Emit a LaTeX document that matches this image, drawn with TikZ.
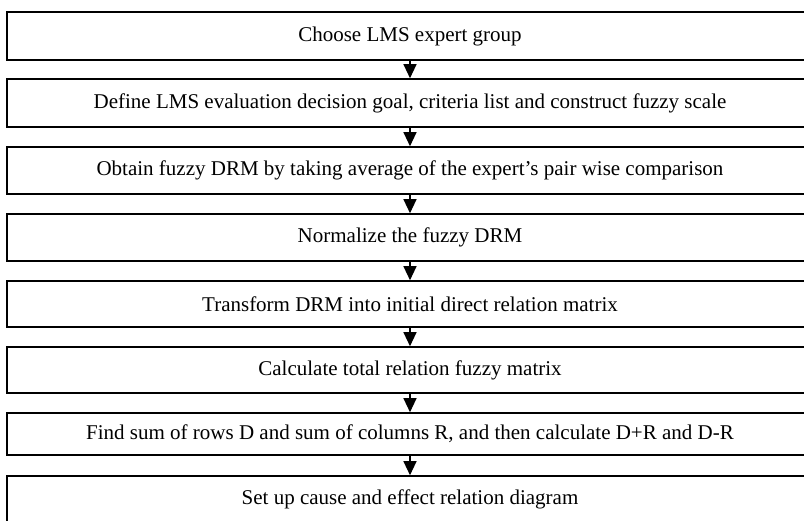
\documentclass[tikz,border=0pt]{standalone}
\usepackage{fontspec}
\setmainfont{Liberation Serif}
\usetikzlibrary{arrows.meta}
\begin{document}
\begin{tikzpicture}[x=1pt,y=1pt,
  stepbox/.style={draw, line width=1.6pt, rectangle, minimum width=806pt, inner sep=0pt, font=\fontsize{21}{24}\selectfont},
  flow/.style={line width=1.2pt, -{Triangle[width=13pt,length=14pt]}}]
\useasboundingbox (0,0) rectangle (804,-520);
\clip (0,0) rectangle (804,-520);
\node[stepbox, minimum height=48pt] (b1) at (410,-36) {Choose LMS expert group};
\node[stepbox, minimum height=48pt] (b2) at (410,-103) {Define LMS evaluation decision goal, criteria list and construct fuzzy scale};
\node[stepbox, minimum height=47pt] (b3) at (410,-170.5) {Obtain fuzzy DRM by taking average of the expert’s pair wise comparison};
\node[stepbox, minimum height=47pt] (b4) at (410,-237.5) {Normalize the fuzzy DRM};
\node[stepbox, minimum height=46pt] (b5) at (410,-304) {Transform DRM into initial direct relation matrix};
\node[stepbox, minimum height=46pt] (b6) at (410,-370) {Calculate total relation fuzzy matrix};
\node[stepbox, minimum height=42pt] (b7) at (410,-434) {Find sum of rows D and sum of columns R, and then calculate D+R and D-R};
\node[stepbox, minimum height=47pt] (b8) at (410,-499.5) {Set up cause and effect relation diagram};
\foreach \a/\b in {b1/b2,b2/b3,b3/b4,b4/b5,b5/b6,b6/b7,b7/b8}
  \draw[flow] (\a.south) -- (\b.north);
\end{tikzpicture}
\end{document}
